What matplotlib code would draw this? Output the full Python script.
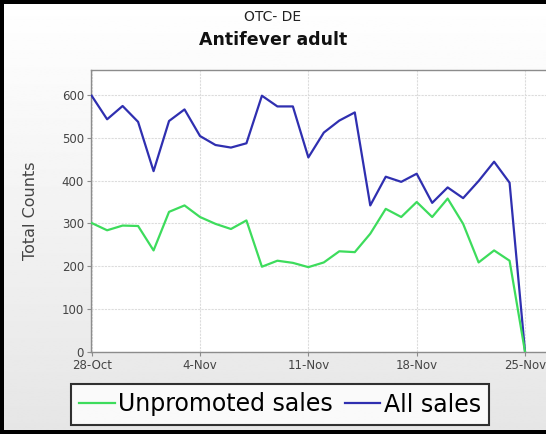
import numpy as np
import pandas as pd
import matplotlib
matplotlib.use("Agg")
import matplotlib.pyplot as plt
from matplotlib.patches import Rectangle
from matplotlib.ticker import FuncFormatter

# daily counts, 28-Oct .. 25-Nov
start_day = "2012-10-28"
unpromoted = [301, 284, 295, 294, 237, 327, 342, 315, 299, 287, 307, 199, 213, 208, 198,
              209, 235, 233, 276, 334, 315, 350, 315, 358, 299, 209, 237, 213, 0]
all_sales = [598, 543, 574, 537, 422, 539, 566, 504, 483, 477, 487, 598, 573, 573, 454,
             512, 540, 559, 342, 409, 397, 416, 348, 384, 359, 399, 444, 395, 0]
week_ticks = ["2012-10-28", "2012-11-04", "2012-11-11", "2012-11-18", "2012-11-25"]
y_ticks = [0, 100, 200, 300, 400, 500, 600]

days = pd.date_range(start_day, periods=len(all_sales), freq="D")

W, H = 546, 434
fig = plt.figure(figsize=(W / 100, H / 100), dpi=100)

# gradient background, white at top to light grey at bottom
bg = fig.add_axes([0, 0, 1, 1], zorder=-10)
grad = np.linspace(1.0, 0.90, 256).reshape(-1, 1)
bg.imshow(grad, cmap="gray", vmin=0, vmax=1, aspect="auto", extent=[0, 1, 0, 1])
bg.set_axis_off()

# black frame (right side runs off the picture)
def px_rect(x0, y0, x1, y1):
    return Rectangle((x0 / W, 1 - y1 / H), (x1 - x0) / W, (y1 - y0) / H,
                     transform=fig.transFigure, facecolor="black", edgecolor="none", zorder=5)

fig.patches.append(px_rect(0, 0, 4, H))
fig.patches.append(px_rect(0, 0, W, 4))
fig.patches.append(px_rect(0, 430, W, H))

left_px, top_px, bottom_px = 91, 70, 352
px_per_day = 15.5
x_end = 30.5
right_px = left_px + x_end * px_per_day
ax = fig.add_axes([left_px / W, 1 - bottom_px / H,
                   (right_px - left_px) / W, (bottom_px - top_px) / H])
ax.set_facecolor("white")

ax.plot(days, all_sales, color="#2f2fb0", lw=1.6, label="All sales", zorder=3)
ax.plot(days, unpromoted, color="#3ddc5c", lw=1.6, label="Unpromoted sales", zorder=4)

ax.set_xlim(days[0] - pd.Timedelta(hours=1), days[0] + pd.Timedelta(days=x_end))
ax.set_ylim(0, 658)
ax.set_yticks(y_ticks)
ax.set_xticks(pd.to_datetime(week_ticks))
ax.xaxis.set_major_formatter(FuncFormatter(
    lambda v, pos: f"{matplotlib.dates.num2date(v).day}-{matplotlib.dates.num2date(v):%b}"))

ax.grid(True, color="#dcdcdc", lw=0.8, ls=(0, (2, 1)))
ax.set_axisbelow(True)
for side in ["left", "bottom", "top", "right"]:
    ax.spines[side].set_color("#8c8c8c")
    ax.spines[side].set_linewidth(1.0)
ax.tick_params(direction="out", length=3, color="#8c8c8c", labelsize=8.5,
               labelcolor="#444444", pad=2)
ax.set_ylabel("Total Counts", fontsize=11.5, color="#444444", labelpad=17)

fig.text(0.5, 1 - 17 / H, "OTC- DE", ha="center", va="center", fontsize=10, color="#222222")
fig.text(0.5, 1 - 40 / H, "Antifever adult", ha="center", va="center", fontsize=12.5,
         fontweight="bold", color="#111111")

handles, labels = ax.get_legend_handles_labels()
leg = fig.legend(handles[::-1], labels[::-1], loc="center", ncol=2,
                 bbox_to_anchor=(280 / W, 1 - 404.5 / H), fontsize=17,
                 frameon=True, fancybox=False, handlelength=1.5, handletextpad=0.15,
                 columnspacing=0.5, borderpad=0.35, borderaxespad=0)
leg.get_frame().set_edgecolor("black")
leg.get_frame().set_linewidth(1.5)
leg.get_frame().set_facecolor("white")

fig.savefig("out.png", dpi=100)
